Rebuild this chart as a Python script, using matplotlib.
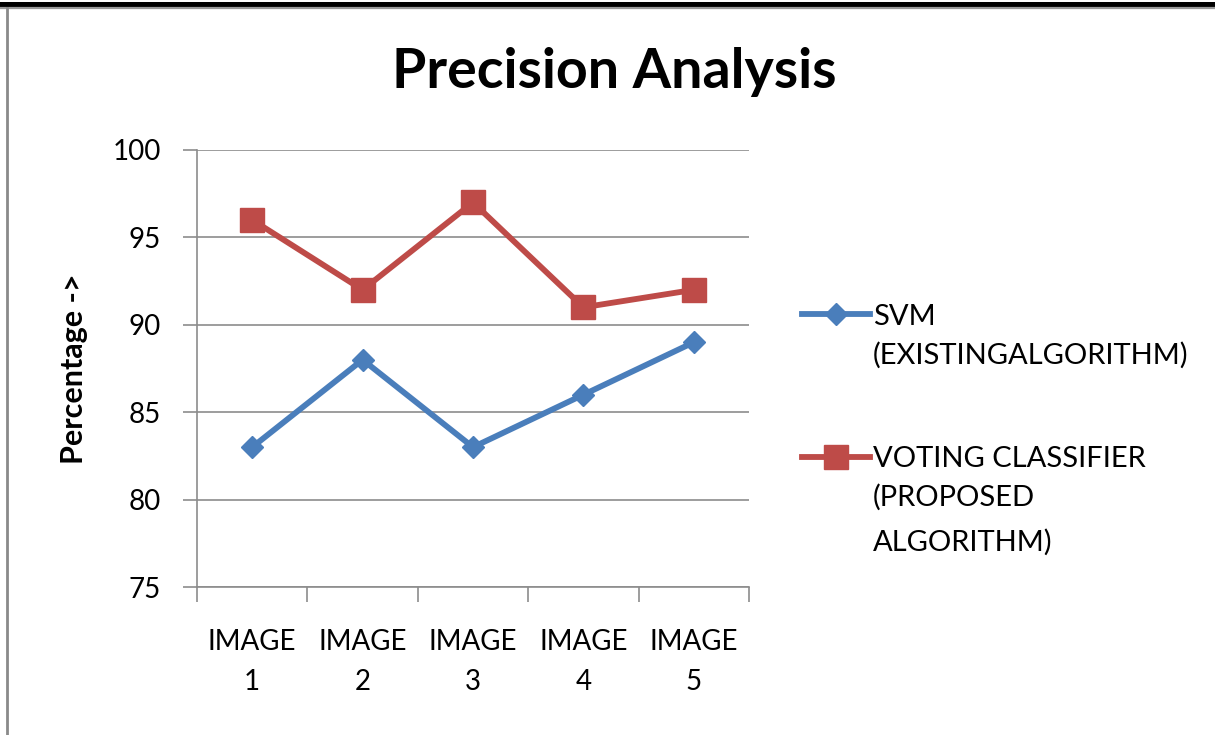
import matplotlib
matplotlib.use('Agg')
import matplotlib.pyplot as plt
from matplotlib.lines import Line2D

plt.rcParams['font.family'] = ['Lato', 'DejaVu Sans']

categories = ['IMAGE\n1', 'IMAGE\n2', 'IMAGE\n3', 'IMAGE\n4', 'IMAGE\n5']
svm_precision = [83, 88, 83, 86, 89]
voting_precision = [96, 92, 97, 91, 92]
y_ticks = [75, 80, 85, 90, 95, 100]
series_names = ['SVM', 'VOTING CLASSIFIER']
series_notes = ['(EXISTINGALGORITHM)', '(PROPOSED\nALGORITHM)']

BLUE = '#4a7ebb'
RED = '#be4b48'
GRID = '#8c8c8c'
LABEL_SIZE = 21

W, H = 1215, 735
fig = plt.figure(figsize=(W / 100, H / 100), dpi=100)

# page frame: heavy black rule on top, thin grey rule under it and on the left
fig.add_artist(Line2D([0, 1], [1 - 4 / H, 1 - 4 / H], color='black', lw=3.6))
fig.add_artist(Line2D([0, 1], [1 - 8 / H, 1 - 8 / H], color='#9a9a9a', lw=1.6))
fig.add_artist(Line2D([6.5 / W, 6.5 / W], [0, 1 - 8 / H], color='#8a8a8a', lw=2.0))

ax = fig.add_axes([197 / W, 1 - 587 / H, (749 - 197) / W, (587 - 150) / H])
x = list(range(len(categories)))
ax.plot(x, svm_precision, color=BLUE, lw=4.2, marker='D', ms=11,
        label=series_names[0])
ax.plot(x, voting_precision, color=RED, lw=4.2, marker='s', ms=17,
        label=series_names[1])

ax.set_xlim(-0.5, len(categories) - 0.5)
ax.set_ylim(75, 100)
ax.set_yticks(y_ticks)
ax.yaxis.grid(True, color=GRID, lw=1.2)
ax.set_axisbelow(True)
ax.tick_params(axis='y', length=10, width=1.2, color=GRID,
               labelsize=20, pad=16)
ax.set_xticks(x)
ax.set_xticklabels(categories, fontsize=20, linespacing=1.7)
ax.tick_params(axis='x', length=0, pad=30)
# category boundary ticks
ax.set_xticks([i - 0.5 for i in range(len(categories) + 1)], minor=True)
ax.tick_params(axis='x', which='minor', length=11, width=1.2, color=GRID)
for side in ['top', 'right']:
    ax.spines[side].set_visible(False)
for side in ['left', 'bottom']:
    ax.spines[side].set_color(GRID)
    ax.spines[side].set_linewidth(1.2)

ax.set_ylabel('Percentage ->', fontsize=22, fontweight='bold', labelpad=18)
fig.text(614 / W, 1 - 72 / H, 'Precision Analysis', ha='center', va='center',
         fontsize=40, fontweight='bold')

# legend keys sit on the first line of each label; the rest goes underneath
leg = fig.legend(loc='upper left', bbox_to_anchor=(787 / W, 1 - 289 / H),
                 frameon=False, fontsize=LABEL_SIZE, handlelength=2.35,
                 handletextpad=0.1, labelspacing=4.0, borderpad=0)
fig.canvas.draw()
inv = fig.transFigure.inverted()
for txt, note in zip(leg.get_texts(), series_notes):
    bb = txt.get_window_extent()
    x0, y0 = inv.transform((bb.x0, bb.y0))
    fig.text(x0, y0 - 12 / H, note, ha='left', va='top',
             fontsize=LABEL_SIZE, linespacing=1.8)

fig.savefig('out.png', dpi=100, facecolor='white')
